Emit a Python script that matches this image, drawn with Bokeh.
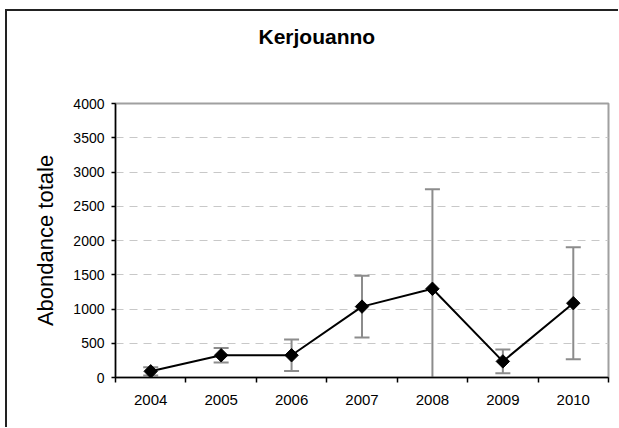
import numpy as np
from bokeh.plotting import figure
from bokeh.layouts import column
from bokeh.models import (ColumnDataSource, Range1d, FixedTicker, Whisker, TeeHead, Title)
from bokeh.embed import file_html
from bokeh.resources import INLINE

# ---- data ----
years = ["2004", "2005", "2006", "2007", "2008", "2009", "2010"]
abundance = [90, 325, 325, 1035, 1295, 235, 1085]
error = [60, 105, 230, 452, 1452, 173, 818]
y_ticks = [0, 500, 1000, 1500, 2000, 2500, 3000, 3500, 4000]

FONT = "Liberation Sans"

n = len(years)
xpos = [i + 0.5 for i in range(n)]
src = ColumnDataSource(dict(
    x=xpos,
    y=abundance,
    upper=[a + e for a, e in zip(abundance, error)],
    lower=[a - e for a, e in zip(abundance, error)],
))

p = figure(width=611, height=416, output_backend="svg", toolbar_location=None,
           x_range=Range1d(0, n), y_range=Range1d(0, 4000),
           min_border_left=108, min_border_right=10, min_border_top=92,
           min_border_bottom=50)
p.border_fill_color = "white"
p.background_fill_color = "white"

p.title.text = "Kerjouanno"
p.title.text_font = FONT
p.title.text_font_size = "21px"
p.title.text_font_style = "bold"
p.title.text_color = "black"
p.title.align = "left"
p.title.offset = 143
p.title.standoff = 0

# invisible spacer between the title and the plot area
p.add_layout(Title(text=" ", text_font_size="1px", standoff=53), "above")

# error bars
wh = Whisker(base="x", upper="upper", lower="lower", source=src,
             line_color="#8c8c8c", line_width=2, level="underlay",
             upper_head=TeeHead(size=15, line_color="#8c8c8c", line_width=2),
             lower_head=TeeHead(size=15, line_color="#8c8c8c", line_width=2))
p.add_layout(wh)

p.line("x", "y", source=src, line_color="black", line_width=2)
p.scatter("x", "y", source=src, marker="square", size=9.5, angle=np.pi / 4,
          fill_color="black", line_color="black")

# x axis
xa = p.xaxis[0]
xa.ticker = FixedTicker(ticks=xpos, minor_ticks=list(range(n + 1)))
xa.major_label_overrides = {float(x): yr for x, yr in zip(xpos, years)}
xa.major_tick_out = 0
xa.major_tick_in = 0
xa.minor_tick_out = 5
xa.minor_tick_in = 0
xa.minor_tick_line_color = "black"
xa.minor_tick_line_width = 1.5
xa.axis_line_color = "black"
xa.axis_line_width = 1.5
xa.major_label_text_font = FONT
xa.major_label_text_font_size = "15px"
xa.major_label_text_color = "black"
xa.major_label_standoff = 12

# y axis
ya = p.yaxis[0]
ya.ticker = FixedTicker(ticks=y_ticks)
ya.major_tick_out = 4
ya.major_tick_in = 0
ya.minor_tick_line_color = None
ya.major_tick_line_color = "black"
ya.major_tick_line_width = 1.5
ya.axis_line_color = "black"
ya.axis_line_width = 1.5
ya.major_label_text_font = FONT
ya.major_label_text_font_size = "14px"
ya.major_label_text_color = "black"
ya.major_label_standoff = 7
ya.axis_label = "Abondance totale"
ya.axis_label_text_font = FONT
ya.axis_label_text_font_size = "22px"
ya.axis_label_text_font_style = "normal"
ya.axis_label_text_color = "black"
ya.axis_label_standoff = 12

p.xgrid.grid_line_color = None
p.ygrid.grid_line_color = "#c8c8c8"
p.ygrid.grid_line_dash = "8 6"
p.ygrid.grid_line_width = 1

p.outline_line_color = "#a0a0a0"
p.outline_line_width = 2

page = column(p, styles={"border-left": "2px solid #222222",
                         "border-top": "2px solid #222222",
                         "margin-left": "5px", "margin-top": "9px"})

open("out.html", "w").write(file_html(page, INLINE))
